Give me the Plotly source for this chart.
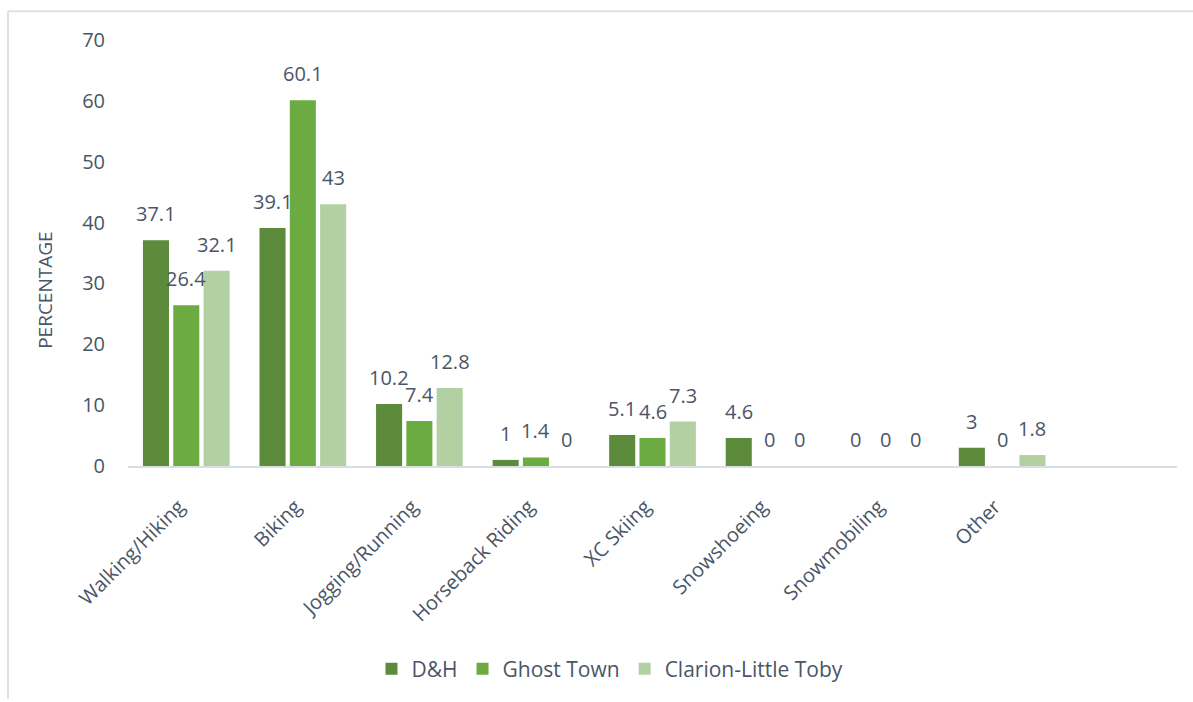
import plotly.graph_objects as go

# Activity categories (a trailing blank slot leaves room on the right of the axis)
categories = ["Walking/Hiking", "Biking", "Jogging/Running", "Horseback Riding",
              "XC Skiing", "Snowshoeing", "Snowmobiling", "Other"]
series_names = ["D&H", "Ghost Town", "Clarion-Little Toby"]
dh_values = [37.1, 39.1, 10.2, 1, 5.1, 4.6, 0, 3]
ghost_town_values = [26.4, 60.1, 7.4, 1.4, 4.6, 0, 0, 0]
clarion_values = [32.1, 43, 12.8, 0, 7.3, 0, 0, 1.8]
y_ticks = [0, 10, 20, 30, 40, 50, 60, 70]

colors = ["#5b8b3b", "#6cab42", "#b2d0a2"]
text_color = "#4a5568"
font_family = "Open Sans, Lato, sans-serif"

W, H = 1193, 702
ml, mr, mt, mb = 128, 16, 40, 234
bargap = 0.22
n_slots = len(categories) + 1

pw = W - ml - mr
ph = H - mt - mb

all_series = [dh_values, ghost_town_values, clarion_values]

fig = go.Figure()
for name, vals, col in zip(series_names, all_series, colors):
    fig.add_trace(go.Bar(
        name=name,
        x=categories,
        y=vals,
        marker=dict(color=col, line=dict(width=0)),
        hovertemplate="%{x}: %{y}<extra>" + name + "</extra>",
    ))

# Value labels above each bar, offset horizontally to each bar of the group
slot_px = pw / n_slots * (1 - bargap) / len(all_series)
for i, vals in enumerate(all_series):
    dx = (i - (len(all_series) - 1) / 2) * slot_px
    for cat, v in zip(categories, vals):
        fig.add_annotation(
            x=cat, y=v, xref="x", yref="y",
            text=f"{v:g}", showarrow=False,
            xanchor="center", yanchor="bottom",
            xshift=dx, yshift=11,
            font=dict(size=20, color=text_color, family=font_family),
        )

# Axis title placed beside the tick labels
fig.add_annotation(
    xref="paper", yref="paper",
    x=(45 - ml) / pw, y=(H - mb - 292) / ph,
    text="PERCENTAGE", textangle=-90, showarrow=False,
    xanchor="center", yanchor="middle",
    font=dict(size=19, color=text_color, family=font_family),
)

# Thin frame along the top and left edges of the chart area
x_left = (8 - ml) / pw
y_top = (H - mb - 11) / ph
fig.add_shape(type="line", xref="paper", yref="paper",
              x0=x_left, x1=(W - ml) / pw + 0.01, y0=y_top, y1=y_top,
              line=dict(color="#dde2e8", width=2))
fig.add_shape(type="line", xref="paper", yref="paper",
              x0=x_left, x1=x_left, y0=y_top, y1=(H - mb - 702) / ph,
              line=dict(color="#dde2e8", width=2))

fig.update_layout(
    width=W, height=H,
    margin=dict(l=ml, r=mr, t=mt, b=mb),
    paper_bgcolor="white", plot_bgcolor="white",
    barmode="group", bargap=bargap, bargroupgap=0.14,
    font=dict(family=font_family, color=text_color),
    showlegend=True,
    legend=dict(orientation="h", x=(610 - ml) / pw, xanchor="center",
                y=(H - mb - 672) / ph, yanchor="middle",
                font=dict(size=21, color=text_color, family=font_family),
                itemwidth=30, traceorder="normal"),
    xaxis=dict(
        type="category",
        categoryorder="array", categoryarray=categories,
        range=[-0.5, n_slots - 0.5],
        tickangle=-45,
        tickfont=dict(size=20, color=text_color, family=font_family),
        ticksuffix="  ",
        showgrid=False, showline=True, linecolor="#d9dee5", linewidth=1.5,
        ticks="", ticklabelstandoff=12,
    ),
    yaxis=dict(
        range=[0, 70], tickvals=y_ticks,
        tickfont=dict(size=20, color=text_color, family=font_family),
        showgrid=False, showline=False, zeroline=False, ticks="",
        ticklabelstandoff=22,
    ),
)

fig.write_html("out.html")
